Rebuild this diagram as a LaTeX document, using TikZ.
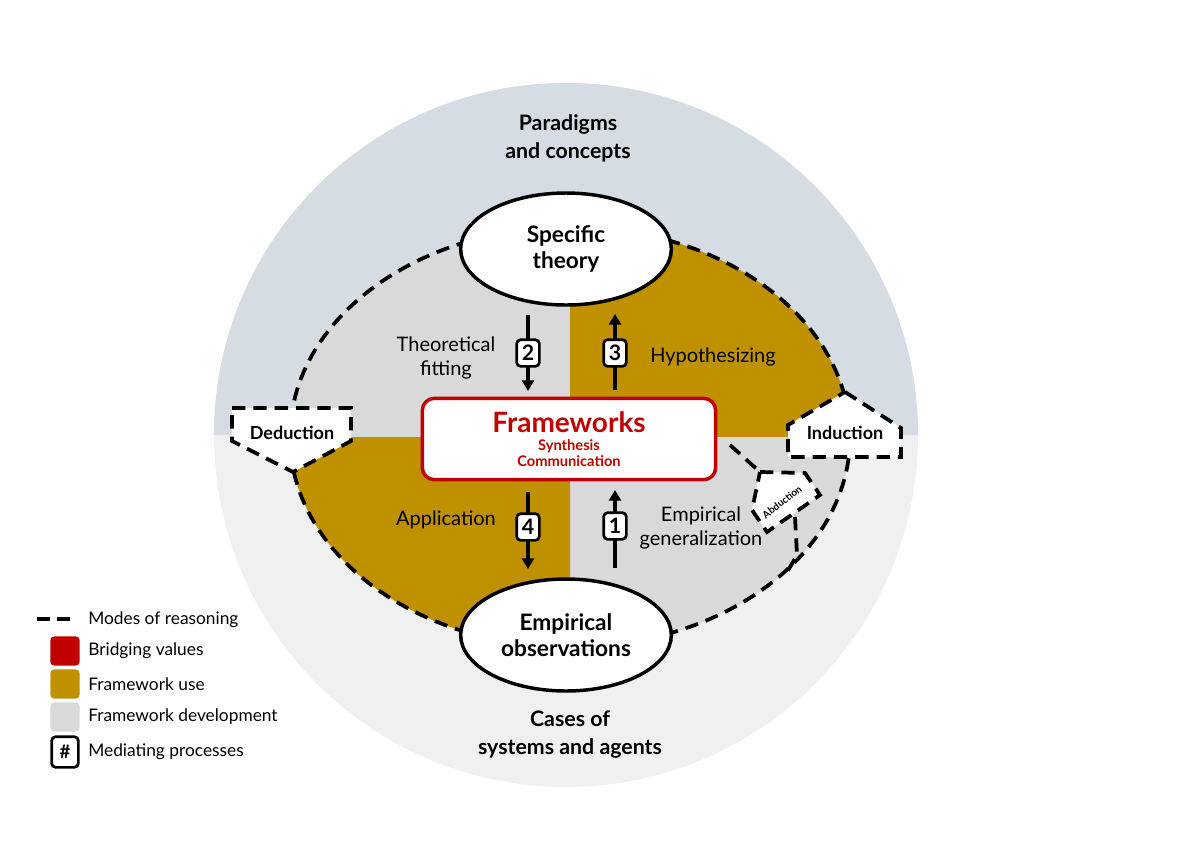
\documentclass[tikz,border=0pt]{standalone}
\usepackage{fontspec}
\setmainfont{Lato}
\usetikzlibrary{shapes.geometric,arrows.meta}
\definecolor{gold}{HTML}{BF9000}
\definecolor{bred}{HTML}{C00000}
\definecolor{lgray}{HTML}{D9D9D9}
\definecolor{topbg}{HTML}{D6DCE4}
\definecolor{botbg}{HTML}{F0F0F0}
\tikzset{
 rdash/.style={line width=2.8pt, dash pattern=on 10pt off 6pt},
 obs/.style={ellipse, draw=black, line width=2.6pt, fill=white, minimum width=158pt, minimum height=84pt, align=center, font=\fontsize{17}{20}\selectfont\bfseries},
 num/.style={draw=black, line width=2pt, rounded corners=3pt, fill=white, minimum width=17pt, minimum height=20pt, inner sep=0pt, font=\fontsize{16}{16}\selectfont\bfseries},
 arr/.style={line width=3pt, -{Triangle[length=8pt,width=9pt]}},
 lab/.style={font=\fontsize{15}{18}\selectfont, align=center},
 big/.style={font=\fontsize{16}{21}\selectfont\bfseries, align=center},
 leg/.style={font=\fontsize{13}{15}\selectfont, anchor=west, inner sep=0pt},
 sq/.style={rounded corners=3pt, minimum size=22pt, inner sep=0pt}
}
\begin{document}
\begin{tikzpicture}[x=0.75pt,y=-0.75pt]
\useasboundingbox (0,0) rectangle (1200,847);
% background circle
\fill[botbg] (566,435) circle[radius=352];
\fill[topbg] (214,435) arc[start angle=180,end angle=360,radius=352] -- cycle;
% quadrants
\fill[lgray] (570,437) -- (290,437) arc[start angle=180,end angle=270,x radius=280,y radius=210] -- cycle;
\fill[gold] (570,437) -- (570,227) arc[start angle=270,end angle=360,x radius=280,y radius=210] -- cycle;
\fill[lgray] (570,437) -- (850,437) arc[start angle=0,end angle=90,x radius=280,y radius=210] -- cycle;
\fill[gold] (570,437) -- (570,647) arc[start angle=90,end angle=180,x radius=280,y radius=210] -- cycle;
% dashed reasoning
\draw[rdash] (570,437) ellipse[x radius=280,y radius=210];
\coordinate (fc) at (730,445);
\coordinate (ab1) at (797,555);
\coordinate (ab2) at (786,574);
% boxes
\fill[white] (232,408) -- (351,408) -- (351,441) -- (293,472) -- (232,441) -- cycle;
\draw[rdash] (232,408) -- (351,408) -- (351,441) -- (293,472) -- (232,441) -- cycle;
\node[font=\fontsize{13.5}{15}\selectfont\bfseries] (dedt) at (292,433) {Deduction};
\fill[white] (845,392) -- (901,428) -- (901,457) -- (788,457) -- (788,425) -- cycle;
\draw[rdash] (845,392) -- (901,428) -- (901,457) -- (788,457) -- (788,425) -- cycle;
\node[font=\fontsize{13.5}{15}\selectfont\bfseries] (ind) at (845,433) {Induction};
\fill[white] (760,472) -- (805,473) -- (820,495) -- (767,532) -- (752,510) -- cycle;
\draw[rdash] (760,472) -- (805,473) -- (820,495) -- (767,532) -- (752,510) -- cycle;
\node[font=\fontsize{7.5}{8}\selectfont\bfseries, rotate=38, inner sep=0pt] (abd) at (782,502) {Abduction};
\coordinate (abl) at (760,472);
\coordinate (abb) at (795,517);
\draw[rdash] (fc) -- (abl);
\draw[rdash] (abb) -- (ab1) -- (ab2);
% ellipses
\node[obs] (th) at (566,249) {Specific\\theory};
\node[obs] (em) at (566,635) {Empirical\\observations};
% frameworks
\node[draw=bred, line width=2.6pt, rounded corners=9pt, fill=white, minimum width=220pt, minimum height=61pt, align=center, text=bred, inner sep=2pt] (fw) at (569,439)
 {\fontsize{21}{24}\selectfont\bfseries Frameworks\\[2pt]\fontsize{11}{15}\selectfont\bfseries Synthesis\\[0pt]\fontsize{11}{13}\selectfont\bfseries Communication};
% arrows
\coordinate (a2s) at (528,315); \coordinate (a2e) at (528,391);
\coordinate (a3s) at (615,390); \coordinate (a3e) at (615,314);
\coordinate (a4s) at (528,492); \coordinate (a4e) at (528,569);
\coordinate (a1s) at (615,568); \coordinate (a1e) at (615,490);
\draw[arr] (a2s) -- (a2e);
\draw[arr] (a3s) -- (a3e);
\draw[arr] (a4s) -- (a4e);
\draw[arr] (a1s) -- (a1e);
\node[num] (n2) at (528,353) {2};
\node[num] (n3) at (615,353) {3};
\node[num] (n4) at (528,527) {4};
\node[num] (n1) at (615,526) {1};
% labels
\node[lab] (tf) at (446,358) {Theoretical\\fitting};
\node[lab] (hy) at (713,357) {Hypothesizing};
\node[lab] (ap) at (446,520) {Application};
\node[lab] (eg) at (701,528) {Empirical\\generalization};
\node[big] (pc) at (568,138) {Paradigms\\and concepts};
\node[big] (cs) at (570,735) {Cases of\\systems and agents};
% legend
\coordinate (l1) at (37,619); \coordinate (l2) at (75,619);
\draw[line width=2.8pt, dash pattern=on 10pt off 5pt] (l1) -- (l2);
\node[leg] (t1) at (88,620) {Modes of reasoning};
\node[sq, fill=bred] (s2) at (65,651) {};
\node[leg] (t2) at (88,651) {Bridging values};
\node[sq, fill=gold] (s3) at (65,684) {};
\node[leg] (t3) at (88,684) {Framework use};
\node[sq, fill=lgray] (s4) at (65,717) {};
\node[leg] (t4) at (88,717) {Framework development};
\node[num, minimum width=20pt, minimum height=23pt, font=\fontsize{14}{14}\selectfont\bfseries] (s5) at (65,752) {\#};
\node[leg] (t5) at (88,752) {Mediating processes};
\end{tikzpicture}
\end{document}
